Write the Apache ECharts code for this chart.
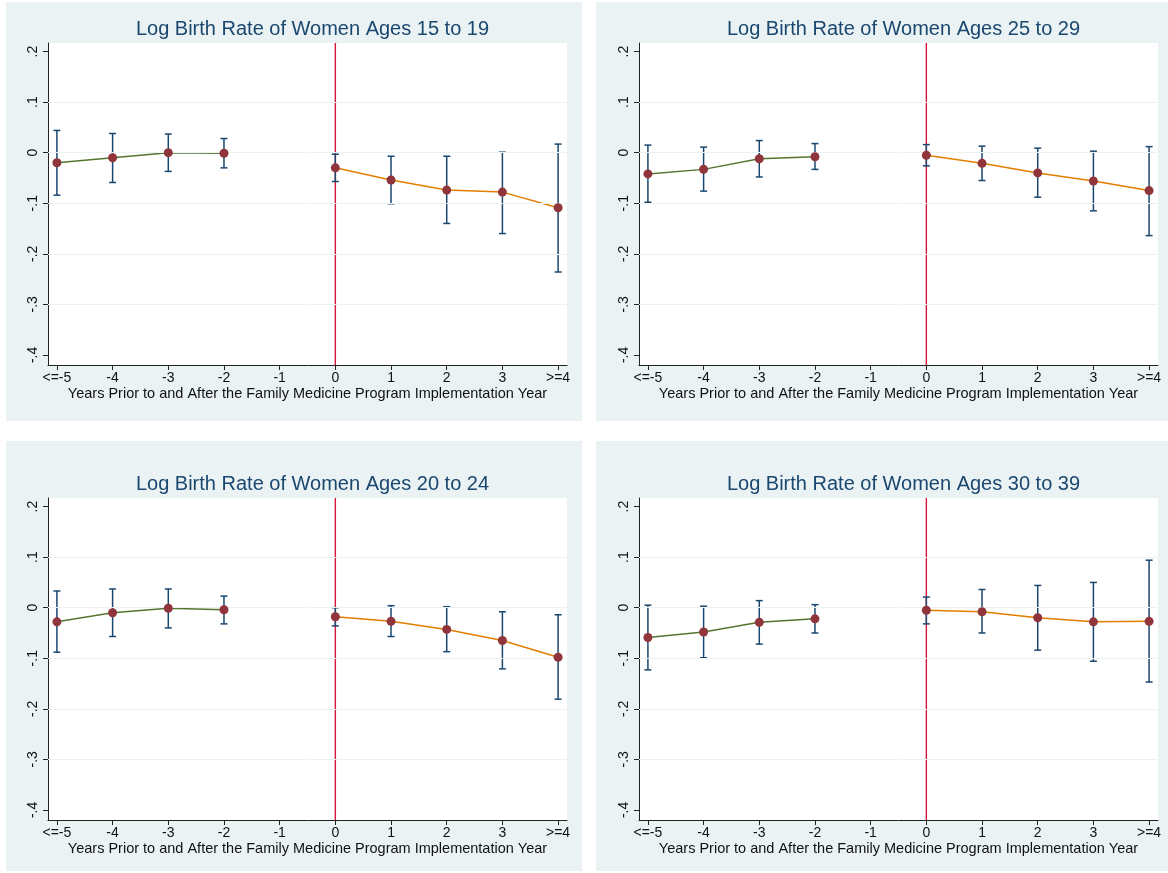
<!DOCTYPE html>
<html>
<head>
<meta charset="utf-8">
<script src="https://cdn.jsdelivr.net/npm/echarts@6/dist/echarts.min.js"></script>
<style>
html, body { margin: 0; padding: 0; background: #fff; }
#main { width: 1168px; height: 873px; }
</style>
</head>
<body>
<div id="main"></div>
<script>
// event time, tick labels
var xTicks = [-5, -4, -3, -2, -1, 0, 1, 2, 3, 4];
var xLabels = ['<=-5', '-4', '-3', '-2', '-1', '0', '1', '2', '3', '>=4'];
var yTicks = [-0.4, -0.3, -0.2, -0.1, 0, 0.1, 0.2];
var yLabels = ['-.4', '-.3', '-.2', '-.1', '0', '.1', '.2'];
var gridVals = [-0.3, -0.2, -0.1, 0, 0.1];
var refYear = 0;
var preYears = [-5, -4, -3, -2];
var postYears = [0, 1, 2, 3, 4];

var titles = [
    'Log Birth Rate of Women Ages 15 to 19',
    'Log Birth Rate of Women Ages 25 to 29',
    'Log Birth Rate of Women Ages 20 to 24',
    'Log Birth Rate of Women Ages 30 to 39'
];

// 15 to 19
var est15 = [-0.020, -0.010, 0.000, -0.001, -0.030, -0.054, -0.074, -0.078, -0.109];
var lo15  = [-0.084, -0.059, -0.037, -0.030, -0.057, -0.101, -0.140, -0.160, -0.236];
var hi15  = [ 0.044,  0.038,  0.037,  0.028, -0.003, -0.007, -0.007,  0.001,  0.017];
// 25 to 29
var est25 = [-0.042, -0.033, -0.012, -0.008, -0.005, -0.021, -0.040, -0.056, -0.075];
var lo25  = [-0.098, -0.076, -0.048, -0.033, -0.026, -0.055, -0.088, -0.115, -0.164];
var hi25  = [ 0.015,  0.011,  0.024,  0.018,  0.016,  0.013,  0.009,  0.003,  0.012];
// 20 to 24
var est20 = [-0.028, -0.010, -0.001, -0.004, -0.018, -0.027, -0.043, -0.065, -0.098];
var lo20  = [-0.088, -0.057, -0.040, -0.032, -0.036, -0.057, -0.087, -0.121, -0.181];
var hi20  = [ 0.033,  0.037,  0.037,  0.023,  0.000,  0.004,  0.002, -0.008, -0.014];
// 30 to 39
var est30 = [-0.059, -0.048, -0.029, -0.022, -0.005, -0.008, -0.020, -0.028, -0.027];
var lo30  = [-0.123, -0.099, -0.072, -0.050, -0.032, -0.050, -0.084, -0.106, -0.147];
var hi30  = [ 0.005,  0.003,  0.014,  0.006,  0.021,  0.036,  0.044,  0.050,  0.094];

var panelData = [
    [est15, lo15, hi15],
    [est25, lo25, hi25],
    [est20, lo20, hi20],
    [est30, lo30, hi30]
];

var FontFamily = '"Liberation Sans", Arial, Helvetica, sans-serif';
var TitleColor = '#1a476f';
var BarColor = '#1a476f';
var DotColor = '#90353b';
var PreColor = '#55752f';
var PostColor = '#e37e00';
var RefColor = '#d4143a';
var BgColor = '#eaf2f3';
var yMin = -0.42, yMax = 0.217;

var gridPos = [
    {left: 48, top: 43},
    {left: 639, top: 43},
    {left: 48, top: 498},
    {left: 639, top: 498}
];
var gridW = 519, gridH = 322;

var grids = [], xAxes = [], yAxes = [], series = [], titleList = [];

function errorBarItem(params, api) {
    var x = api.value(0);
    var top = api.coord([x, api.value(2)]);
    var bot = api.coord([x, api.value(1)]);
    var w = 3.5;
    var st = {stroke: BarColor, lineWidth: 1.5};
    return {
        type: 'group',
        children: [
            {type: 'line', shape: {x1: top[0], y1: top[1], x2: bot[0], y2: bot[1]}, style: st},
            {type: 'line', shape: {x1: top[0] - w, y1: top[1], x2: top[0] + w, y2: top[1]}, style: st},
            {type: 'line', shape: {x1: bot[0] - w, y1: bot[1], x2: bot[0] + w, y2: bot[1]}, style: st}
        ]
    };
}

// vertical reference line at the implementation year
function refLineItem(params, api) {
    var a = api.coord([api.value(0), yMin]);
    var b = api.coord([api.value(0), yMax]);
    return {
        type: 'line',
        shape: {x1: a[0], y1: a[1], x2: b[0], y2: b[1]},
        style: {stroke: RefColor, lineWidth: 1.4}
    };
}

for (var i = 0; i < 4; i++) {
    var p = gridPos[i];
    grids.push({left: p.left, top: p.top, width: gridW, height: gridH, show: true,
        backgroundColor: '#fff', borderWidth: 0});
    xAxes.push({
        gridIndex: i, type: 'value', min: -5.16, max: 4.16,
        name: 'Years Prior to and After the Family Medicine Program Implementation Year',
        nameLocation: 'middle', nameGap: 21,
        nameTextStyle: {color: '#111', fontSize: 14.5, fontFamily: FontFamily},
        axisLine: {onZero: false, lineStyle: {color: '#222', width: 1}},
        axisTick: {show: true, length: 5, customValues: xTicks, lineStyle: {color: '#222'}},
        axisLabel: {customValues: xTicks, margin: 6, color: '#111', fontSize: 14, fontFamily: FontFamily,
            formatter: function (v) { return xLabels[xTicks.indexOf(Math.round(v))]; }},
        splitLine: {show: false}
    });
    yAxes.push({
        gridIndex: i, type: 'value', min: yMin, max: yMax,
        axisLine: {show: true, onZero: false, lineStyle: {color: '#222', width: 1}},
        axisTick: {show: true, length: 5, customValues: yTicks, lineStyle: {color: '#222'}},
        axisLabel: {customValues: yTicks, rotate: 90, margin: 8, color: '#111', fontSize: 14, fontFamily: FontFamily,
            formatter: function (v) { return yLabels[yTicks.indexOf(Math.round(v * 10) / 10)]; }},
        splitLine: {show: false}
    });
    titleList.push({
        text: titles[i], left: p.left + gridW / 2, top: p.top - 29, textAlign: 'center',
        textStyle: {color: TitleColor, fontSize: 20, fontWeight: 'normal', fontFamily: FontFamily}
    });

    var est = panelData[i][0], lo = panelData[i][1], hi = panelData[i][2];
    var years = preYears.concat(postYears);
    var bars = [], pre = [], post = [], dots = [];
    for (var k = 0; k < years.length; k++) {
        bars.push([years[k], lo[k], hi[k]]);
        dots.push([years[k], est[k]]);
        if (years[k] < 0) pre.push([years[k], est[k]]);
        else post.push([years[k], est[k]]);
    }

    // light grid lines
    series.push({
        type: 'line', xAxisIndex: i, yAxisIndex: i, data: [], silent: true,
        markLine: {
            silent: true, symbol: ['none', 'none'], label: {show: false}, animation: false,
            lineStyle: {color: BgColor, width: 1, type: 'solid'},
            data: gridVals.map(function (v) { return {yAxis: v}; })
        }
    });
    series.push({
        type: 'custom', xAxisIndex: i, yAxisIndex: i, data: [[refYear, 0]],
        renderItem: refLineItem, silent: true, z: 2
    });
    series.push({
        type: 'custom', xAxisIndex: i, yAxisIndex: i, data: bars,
        renderItem: errorBarItem, silent: true, z: 3
    });
    series.push({
        type: 'line', xAxisIndex: i, yAxisIndex: i, data: pre, showSymbol: false,
        lineStyle: {color: PreColor, width: 1.5}, z: 4, silent: true
    });
    series.push({
        type: 'line', xAxisIndex: i, yAxisIndex: i, data: post, showSymbol: false,
        lineStyle: {color: PostColor, width: 1.5}, z: 4, silent: true
    });
    series.push({
        type: 'scatter', xAxisIndex: i, yAxisIndex: i, data: dots, symbolSize: 9,
        itemStyle: {color: DotColor, opacity: 1}, z: 5, silent: true
    });
}

var option = {
    animation: false,
    backgroundColor: '#fff',
    title: titleList,
    graphic: [
        {type: 'rect', shape: {x: 6, y: 2, width: 576, height: 419}, style: {fill: BgColor}, z: -10},
        {type: 'rect', shape: {x: 596, y: 2, width: 572, height: 419}, style: {fill: BgColor}, z: -10},
        {type: 'rect', shape: {x: 6, y: 441, width: 576, height: 430}, style: {fill: BgColor}, z: -10},
        {type: 'rect', shape: {x: 596, y: 441, width: 572, height: 430}, style: {fill: BgColor}, z: -10}
    ],
    grid: grids,
    xAxis: xAxes,
    yAxis: yAxes,
    series: series
};

var chart = echarts.init(document.getElementById('main'));
chart.setOption(option);
</script>
</body>
</html>
